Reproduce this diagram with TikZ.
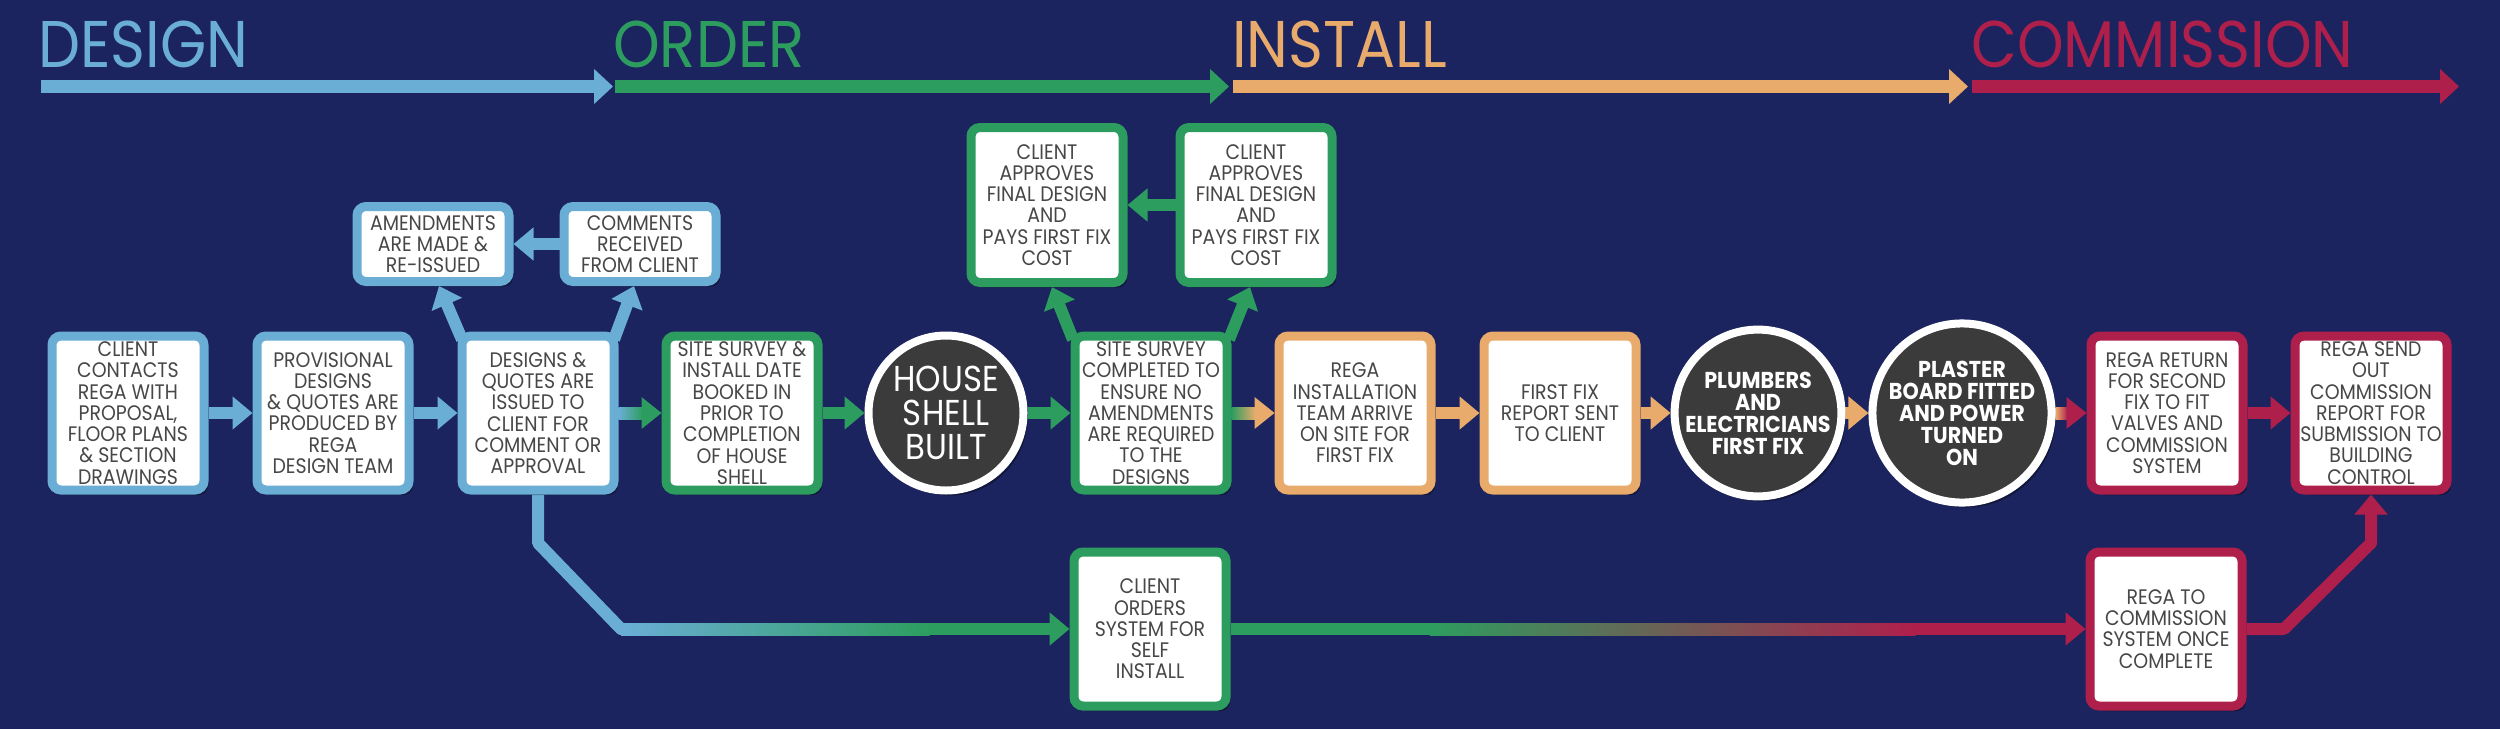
\documentclass[tikz,border=0pt]{standalone}
\usepackage{fontspec}
\setmainfont{Poppins}[FakeStretch=0.9]
\usetikzlibrary{arrows.meta,shadows,calc}
\definecolor{bgc}{HTML}{1B245E}
\definecolor{cblue}{HTML}{6AAED6}
\definecolor{cgreen}{HTML}{2D9D5F}
\definecolor{corange}{HTML}{E8AB6C}
\definecolor{cred}{HTML}{AF1F4C}
\definecolor{ctext}{HTML}{474747}
\definecolor{cdark}{HTML}{3B3B3B}
\pgfdeclarelayer{back}
\pgfdeclarelayer{mid}
\pgfsetlayers{back,mid,main}
\newcommand{\gradconn}[4]{%
  \shade[left color=#3,right color=#4] ($(#1.east)+(0,-6)$) rectangle ($(#2.west)+(-19,6)$);
  \fill[#4] ($(#2.west)+(-20,-16)$) -- (#2.west) -- ($(#2.west)+(-20,16)$) -- cycle;}
\begin{document}
\begin{tikzpicture}[x=1pt,y=-1pt,
  box/.style={draw=#1, line width=9pt, rounded corners=9pt, fill=white,
    minimum width=152pt, minimum height=154pt, inner sep=0pt, align=center,
    text=ctext, font=\fontsize{21}{21.3}\selectfont,
    drop shadow={shadow xshift=4pt, shadow yshift=-5pt, opacity=0.35, fill=black}},
  disc/.style={circle, draw=white, line width=8pt, fill=cdark, minimum size=155pt,
    inner sep=0pt, align=center, text=white,
    drop shadow={shadow xshift=4pt, shadow yshift=-5pt, opacity=0.35, fill=black}},
  conn/.style={line width=12pt, -{Triangle[width=32pt,length=20pt]}},
  phase/.style={anchor=base west, inner sep=0pt, font=\fontsize{66}{66}\selectfont},
  bar/.style={line width=13pt, -{Triangle[width=34pt,length=19pt]}}]
\begin{pgfonlayer}{back}
\fill[bgc] (0,0) rectangle (2500,729);
\end{pgfonlayer}
\useasboundingbox (0,0) rectangle (2500,729);

% phase headers
\node[phase, text=cblue] (hdesign) at (38,67) {DESIGN};
\node[phase, text=cgreen] (horder) at (613,67) {ORDER};
\node[phase, text=corange] (hinstall) at (1232,67) {INSTALL};
\node[phase, text=cred] (hcomm) at (1971,67) {COMMISSION};
\coordinate (p0) at (41,86.5);
\coordinate (p1) at (613,86.5);
\coordinate (p2) at (1229,86.5);
\coordinate (p3) at (1968,86.5);
\coordinate (p4) at (2459,86.5);
\draw[bar, cblue] (p0) -- (p1);
\draw[bar, cgreen] ($(p1)+(2,0)$) -- (p2);
\draw[bar, corange] ($(p2)+(4,0)$) -- (p3);
\draw[bar, cred] ($(p3)+(4,0)$) -- (p4);

% main row
\node[box=cblue] (b1) at (128,413) {CLIENT\\CONTACTS\\REGA WITH\\PROPOSAL,\\FLOOR PLANS\\\& SECTION\\DRAWINGS};
\node[box=cblue] (b2) at (333,413) {PROVISIONAL\\DESIGNS\\\& QUOTES ARE\\PRODUCED BY\\REGA\\DESIGN TEAM};
\node[box=cblue] (b3) at (538,413) {DESIGNS \&\\QUOTES ARE\\ISSUED TO\\CLIENT FOR\\COMMENT OR\\APPROVAL};
\node[box=cgreen] (b4) at (742,413) {SITE SURVEY \&\\INSTALL DATE\\BOOKED IN\\PRIOR TO\\COMPLETION\\OF HOUSE\\SHELL};
\node[disc, font=\fontsize{36}{34}\selectfont] (house) at (946,413) {HOUSE\\SHELL\\BUILT};
\node[box=cgreen] (ssc) at (1151,413) {SITE SURVEY\\COMPLETED TO\\ENSURE NO\\AMENDMENTS\\ARE REQUIRED\\TO THE\\DESIGNS};
\node[box=corange] (ri) at (1355,413) {REGA\\INSTALLATION\\TEAM ARRIVE\\ON SITE FOR\\FIRST FIX};
\node[box=corange] (ffr) at (1560,413) {FIRST FIX\\REPORT SENT\\TO CLIENT};
\node[disc, font=\bfseries\fontsize{23}{22}\selectfont] (plb) at (1758,413) {PLUMBERS\\AND\\ELECTRICIANS\\FIRST FIX};
\node[disc, font=\bfseries\fontsize{23}{22}\selectfont] (pbd) at (1962,413) {PLASTER\\BOARD FITTED\\AND POWER\\TURNED\\ON};
\node[box=cred] (rr) at (2167,413) {REGA RETURN\\FOR SECOND\\FIX TO FIT\\VALVES AND\\COMMISSION\\SYSTEM};
\node[box=cred] (rs) at (2371,413) {REGA SEND\\OUT\\COMMISSION\\REPORT FOR\\SUBMISSION TO\\BUILDING\\CONTROL};

% upper boxes
\node[box=cblue, minimum height=75pt] (am) at (433,244) {AMENDMENTS\\ARE MADE \&\\RE-ISSUED};
\node[box=cblue, minimum height=75pt] (cm) at (640,244) {COMMENTS\\RECEIVED\\FROM CLIENT};
\node[box=cgreen, minimum height=155pt] (ca1) at (1047,205) {CLIENT\\APPROVES\\FINAL DESIGN\\AND\\PAYS FIRST FIX\\COST};
\node[box=cgreen, minimum height=155pt] (ca2) at (1256,205) {CLIENT\\APPROVES\\FINAL DESIGN\\AND\\PAYS FIRST FIX\\COST};

% lower boxes
\node[box=cgreen] (co) at (1150,629) {CLIENT\\ORDERS\\SYSTEM FOR\\SELF\\INSTALL};
\node[box=cred] (rc) at (2166,629) {REGA TO\\COMMISSION\\SYSTEM ONCE\\COMPLETE};

\begin{pgfonlayer}{mid}
% main row connectors
\draw[conn, cblue] (b1) -- (b2);
\draw[conn, cblue] (b2) -- (b3);
\gradconn{b3}{b4}{cblue}{cgreen}
\draw[conn, cgreen] (b4) -- (house);
\draw[conn, cgreen] (house) -- (ssc);
\gradconn{ssc}{ri}{cgreen}{corange}
\draw[conn, corange] (ri) -- (ffr);
\draw[conn, corange] (ffr) -- (plb);
\draw[conn, corange] (plb) -- (pbd);
\gradconn{pbd}{rr}{corange}{cred}
\draw[conn, cred] (rr) -- (rs);

% design loop
\draw[conn, cblue] ($(b3.north)+(-76,8)$) -- ($(am.south)+(6,0)$);
\draw[conn, cblue] ($(b3.north)+(76,8)$) -- ($(cm.south)+(-6,0)$);
\draw[conn, cblue] (cm) -- (am);

% approval loop
\draw[conn, cgreen] ($(ssc.north)+(-78,8)$) -- ($(ca1.south)+(5,0)$);
\draw[conn, cgreen] ($(ssc.north)+(78,8)$) -- ($(ca2.south)+(-6,0)$);
\draw[conn, cgreen] (ca2) -- (ca1);

% self-install route
\coordinate (k1) at (538,543);
\coordinate (k2) at (621,629);
\draw[cblue, line width=12pt, line join=round] (b3.south) -- (k1) -- (k2) -- ++(4,0);
\shade[left color=cblue, right color=cgreen] ($(k2)+(0,-6)$) rectangle ($(co.west)+(-140,6)$);
\draw[conn, cgreen] ($(co.west)+(-141,0)$) -- (co.west);
\draw[cgreen, line width=12pt] (co.east) -- ($(co.east)+(200,0)$);
\shade[left color=cgreen, right color=cred] ($(co.east)+(199,-6)$) rectangle ($(rc.west)+(-170,6)$);
\draw[cred, line width=12pt] ($(rc.west)+(-171,0)$) -- ($(rc.west)+(-30,0)$);
\draw[conn, cred] ($(rc.west)+(-31,0)$) -- (rc.west);
\coordinate (k3) at (2284,629);
\coordinate (k4) at ($(rs.south |- k1)$);
\draw[conn, cred, line join=round] (rc.east) -- (k3) -- (k4) -- (rs.south);
\end{pgfonlayer}
\end{tikzpicture}
\end{document}
